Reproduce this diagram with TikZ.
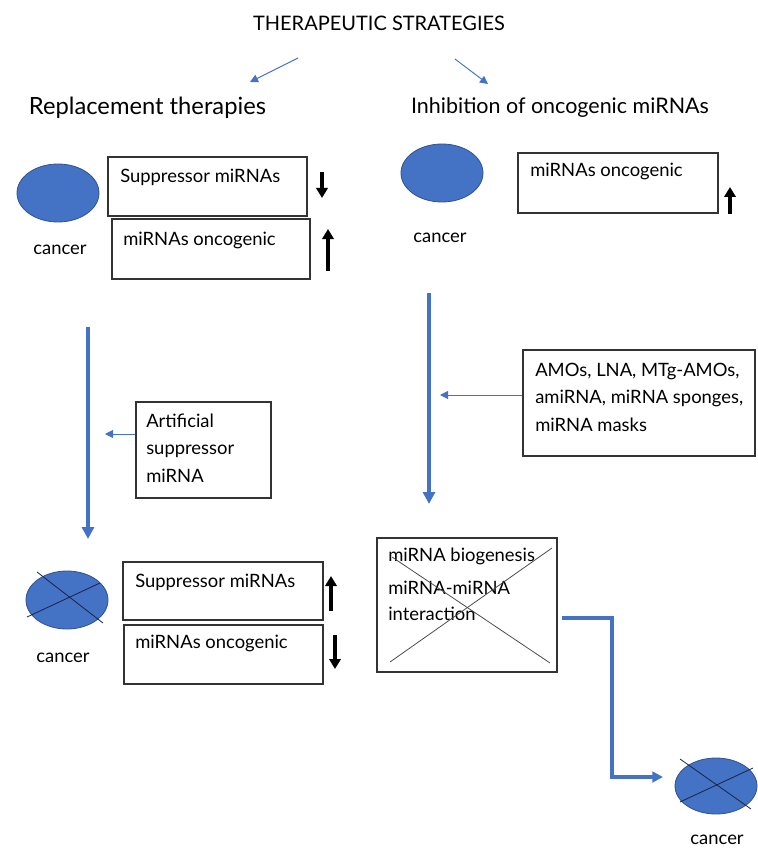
\documentclass[tikz,border=0pt]{standalone}
\usepackage{fontspec}
\setmainfont{Lato}
\usetikzlibrary{arrows.meta,calc,fit,shapes.geometric}
\definecolor{cellblue}{RGB}{68,114,196}
\definecolor{celledge}{RGB}{47,82,143}
\definecolor{crossline}{RGB}{25,35,70}

\begin{document}
\begin{tikzpicture}[x=0.75pt,y=-0.75pt,>=Triangle,
    box/.style={draw=black!80,line width=0.8pt,rectangle,inner sep=0pt},
    txt/.style={font=\fontsize{13.8}{16}\selectfont,inner sep=0pt,anchor=west},
    multi/.style={txt,align=left,anchor=north west,font=\fontsize{13.8}{20.6}\selectfont},
    head/.style={font=\fontsize{17}{20}\selectfont,inner sep=0pt},
    cell/.style={ellipse,fill=cellblue,draw=celledge,line width=0.6pt,
        minimum width=82*0.75pt,minimum height=58*0.75pt,inner sep=0pt},
    cross/.style={crossline,line width=0.6pt},
    thinarr/.style={->,cellblue,line width=0.7pt,
        >={Triangle[length=6pt,width=6pt]}},
    flowarr/.style={->,cellblue,line width=3.3pt,
        >={Triangle[length=9pt,width=9pt]}},
    updown/.style={->,black,line width=2.6pt,
        >={Triangle[length=7.5pt,width=8.5pt]}}]

    % fixed frame (pixel grid of the reference)
    \useasboundingbox (0,0) rectangle (757,852);

    % title and the two branches
    \node[head,font=\fontsize{15}{18}\selectfont] (title) at (379,23) {THERAPEUTIC STRATEGIES};
    \coordinate (tl) at (298,58);
    \coordinate (tlend) at (250,82);
    \coordinate (tr) at (455,59);
    \coordinate (trend) at (488,84);
    \draw[thinarr] (tl) -- (tlend);
    \draw[thinarr] (tr) -- (trend);
    \node[head,font=\fontsize{17.8}{20}\selectfont] (repl) at (147.5,108) {Replacement therapies};
    \node[head,font=\fontsize{16.1}{20}\selectfont] (inhib) at (560,108) {Inhibition of oncogenic miRNAs};

    % left branch, before
    \node[cell] (c1) at (58,193) {};
    \node[txt,anchor=center] (c1t) at (60,250) {cancer};
    \node[box,fit={(108,157) (307,216)}] (sup1) {};
    \node[txt] (sup1t) at (120,177) {Suppressor miRNAs};
    \node[box,fit={(112,219) (310,279)}] (onc1) {};
    \node[txt] (onc1t) at (123,240) {miRNAs oncogenic};
    \coordinate (a1) at (322,172);
    \coordinate (a1end) at (322,198);
    \draw[updown] (a1) -- (a1end);
    \coordinate (a2) at (328,271);
    \coordinate (a2end) at (328,229);
    \draw[updown] (a2) -- (a2end);

    % right branch, before
    \node[cell] (c2) at (442,173) {};
    \node[txt,anchor=center] (c2t) at (440,238) {cancer};
    \node[box,fit={(518,153) (718,213)}] (onc2) {};
    \node[txt] (onc2t) at (530,171) {miRNAs oncogenic};
    \coordinate (a3) at (730,214);
    \coordinate (a3end) at (730,187);
    \draw[updown] (a3) -- (a3end);

    % left flow with artificial miRNA
    \coordinate (f1) at (88,327);
    \coordinate (f1end) at (88,539);
    \draw[flowarr] (f1) -- (f1end);
    \node[box,fit={(136,402) (271,498)}] (art) {};
    \node[multi] (artt) at (146,413.5) {Artificial\\suppressor\\miRNA};
    \coordinate (artend) at (105,434);
    \draw[thinarr] (art.west |- artend) -- (artend);

    % right flow with inhibitors
    \coordinate (f2) at (429,293);
    \coordinate (f2end) at (429,504);
    \draw[flowarr] (f2) -- (f2end);
    \node[box,fit={(523,350) (755,456)}] (amo) {};
    \node[multi] (amot) at (535,362.5) {AMOs, LNA, MTg-AMOs,\\amiRNA, miRNA sponges,\\miRNA masks};
    \coordinate (amoend) at (440,395);
    \draw[thinarr] (amo.west |- amoend) -- (amoend);

    % left branch, after
    \node[cell] (c3) at (67,600) {};
    \draw[cross] ($(c3)+(-30,-28)$) -- ($(c3)+(36,23)$);
    \draw[cross] ($(c3)+(-40,17)$) -- ($(c3)+(33,-17)$);
    \node[txt,anchor=center] (c3t) at (63,658) {cancer};
    \node[box,fit={(123,562) (323,620)}] (sup3) {};
    \node[txt] (sup3t) at (135,582) {Suppressor miRNAs};
    \node[box,fit={(124,625) (323,684)}] (onc3) {};
    \node[txt] (onc3t) at (135,643) {miRNAs oncogenic};
    \coordinate (a4) at (331,611);
    \coordinate (a4end) at (331,576);
    \draw[updown] (a4) -- (a4end);
    \coordinate (a5) at (335,635);
    \coordinate (a5end) at (335,669);
    \draw[updown] (a5) -- (a5end);

    % right branch, after
    \node[box,fit={(377,538) (557,672)}] (bio) {};
    \node[txt] (biot) at (388,556) {miRNA biogenesis};
    \node[multi,font=\fontsize{13.8}{19.5}\selectfont] (biot2) at (388,581) {miRNA-miRNA\\interaction};
    \draw[black!70,line width=0.6pt] (392,557) -- (550,663);
    \draw[black!70,line width=0.6pt] (390,662) -- (552,548);
    \node[cell,minimum height=56*0.75pt] (c4) at (716,786) {};
    \draw[cross] ($(c4)+(-36,-27)$) -- ($(c4)+(35,23)$);
    \draw[cross] ($(c4)+(-36,16)$) -- ($(c4)+(37,-18)$);
    \node[txt,anchor=center] (c4t) at (717,840) {cancer};
    \coordinate (bout) at (562,618);
    \coordinate (c4in) at (663,777);
    \draw[flowarr,line width=2.4pt,>={Triangle[length=8pt,width=8pt]}]
        (bout) -- (612,618) |- (c4in);
\end{tikzpicture}
\end{document}
